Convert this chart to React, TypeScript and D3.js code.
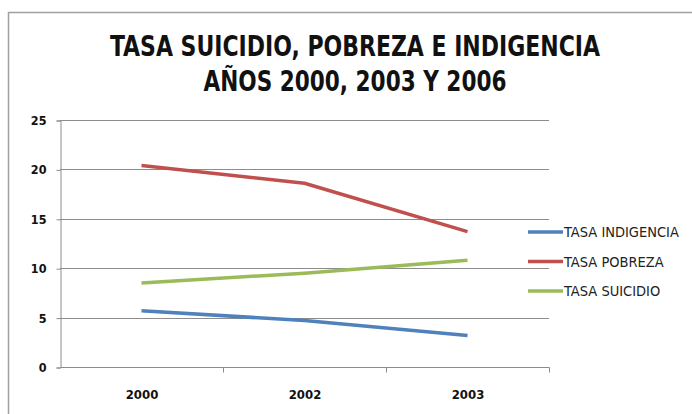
import React, { useEffect, useRef } from 'react';
import * as d3 from 'd3';

const categories = ['2000', '2002', '2003'];
const tasaIndigencia = [5.7, 4.7, 3.2];
const tasaPobreza = [20.4, 18.6, 13.7];
const tasaSuicidio = [8.5, 9.5, 10.8];
const yTicks = [0, 5, 10, 15, 20, 25];
const titleLines = ['TASA SUICIDIO, POBREZA E INDIGENCIA', 'AÑOS 2000, 2003 Y 2006'];
const titleWidths = [490, 303];

const series = [
    { name: 'TASA INDIGENCIA', values: tasaIndigencia, color: '#4f81bd' },
    { name: 'TASA POBREZA', values: tasaPobreza, color: '#c0504d' },
    { name: 'TASA SUICIDIO', values: tasaSuicidio, color: '#9bbb59' },
];

export default function App() {
    const ref = useRef<SVGSVGElement>(null);

    useEffect(() => {
        const svgWidth = 692, svgHeight = 414;
        const plot = { left: 60, right: 549, top: 120, bottom: 367 };
        const font = "'DejaVu Sans Condensed', 'Liberation Sans Narrow', Arial, sans-serif";

        const svg = d3.select(ref.current)
            .attr('width', svgWidth)
            .attr('height', svgHeight)
            .style('position', 'absolute')
            .style('left', 0)
            .style('top', 0);
        svg.selectAll('*').remove();

        // chart border
        svg.append('rect')
            .attr('x', 8.5).attr('y', 12.5)
            .attr('width', 700).attr('height', 420)
            .attr('fill', '#fff')
            .attr('stroke', '#a0a0a0')
            .attr('stroke-width', 1.5);

        // titles
        svg.append('g').selectAll('text')
            .data(titleLines)
            .enter()
                .append('text')
                .attr('x', 355)
                .attr('y', (d, i) => 56 + i * 35)
                .attr('text-anchor', 'middle')
                .attr('textLength', (d, i) => titleWidths[i])
                .attr('lengthAdjust', 'spacingAndGlyphs')
                .attr('font-family', font)
                .attr('font-weight', 'bold')
                .attr('font-size', 28)
                .attr('fill', '#111')
                .text(d => d);

        const x = d3.scaleBand()
            .domain(categories)
            .range([plot.left, plot.right]);

        const y = d3.scaleLinear()
            .domain([0, 25])
            .range([plot.bottom, plot.top]);

        // gridlines
        svg.append('g').selectAll('line')
            .data(yTicks.filter(t => t > 0))
            .enter()
                .append('line')
                .attr('x1', plot.left).attr('x2', plot.right)
                .attr('y1', d => Math.round(y(d)) + 0.5)
                .attr('y2', d => Math.round(y(d)) + 0.5)
                .attr('stroke', '#8c8c8c')
                .attr('stroke-width', 1);

        // y axis
        const yAxis = svg.append('g')
            .attr('transform', 'translate(' + (plot.left + 0.5) + ',0.5)')
            .call(d3.axisLeft(y).tickValues(yTicks).tickSize(4).tickPadding(10).tickFormat(d3.format('d')));
        yAxis.select('.domain').attr('stroke', '#8c8c8c');
        yAxis.selectAll('line').attr('stroke', '#8c8c8c');
        yAxis.selectAll('text')
            .attr('font-family', font)
            .attr('font-weight', 'bold')
            .attr('font-size', 12.5)
            .attr('fill', '#111');

        // x axis
        const xAxis = svg.append('g')
            .attr('transform', 'translate(0.5,' + (Math.round(plot.bottom) + 0.5) + ')');
        xAxis.append('line')
            .attr('x1', plot.left).attr('x2', plot.right)
            .attr('stroke', '#8c8c8c');
        xAxis.selectAll('.tick')
            .data(categories)
            .enter()
                .append('line')
                .attr('class', 'tick')
                .attr('x1', d => Math.round(x(d)! + x.bandwidth()))
                .attr('x2', d => Math.round(x(d)! + x.bandwidth()))
                .attr('y1', 0).attr('y2', 5)
                .attr('stroke', '#8c8c8c');
        xAxis.selectAll('text')
            .data(categories)
            .enter()
                .append('text')
                .attr('x', d => x(d)! + x.bandwidth() / 2)
                .attr('y', 31)
                .attr('text-anchor', 'middle')
                .attr('font-family', font)
                .attr('font-weight', 'bold')
                .attr('font-size', 13)
                .attr('fill', '#111')
                .text(d => d);

        // lines
        const line = d3.line<number>()
            .x((d, i) => x(categories[i])! + x.bandwidth() / 2)
            .y(d => y(d));

        svg.append('g').selectAll('path')
            .data(series)
            .enter()
                .append('path')
                .attr('d', d => line(d.values))
                .attr('fill', 'none')
                .attr('stroke', d => d.color)
                .attr('stroke-width', 3.5)
                .attr('stroke-linejoin', 'round');

        // legend
        const legend = svg.append('g').selectAll('g')
            .data(series)
            .enter()
                .append('g')
                .attr('transform', (d, i) => 'translate(528,' + (232 + i * 29.5) + ')');
        legend.append('line')
            .attr('x1', 0).attr('x2', 35)
            .attr('stroke', d => d.color)
            .attr('stroke-width', 3.5);
        legend.append('text')
            .attr('x', 36)
            .attr('y', 5)
            .attr('font-family', font)
            .attr('font-size', 14.5)
            .attr('fill', '#222')
            .text(d => d.name);
    }, []);

    return (
        <div>
            <svg ref={ref}></svg>
        </div>
    );
}
